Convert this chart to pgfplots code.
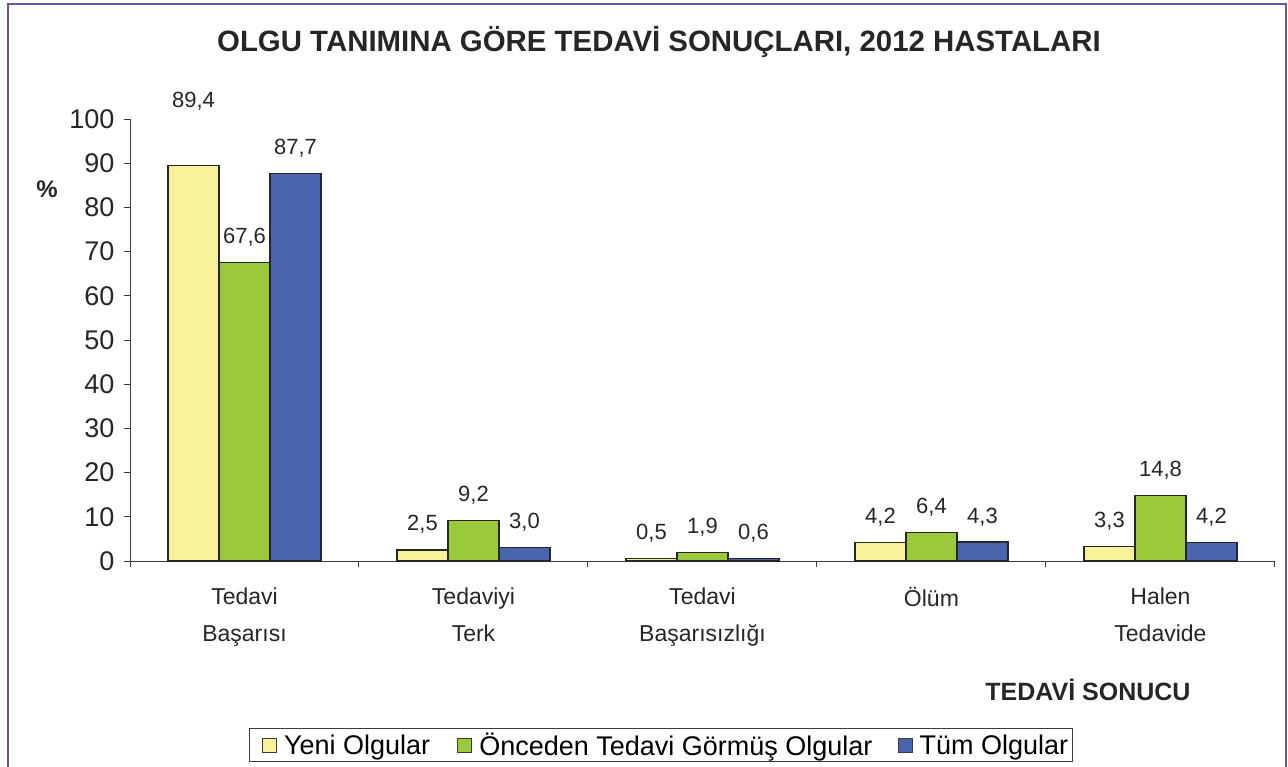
\documentclass[border=0pt]{standalone}
\usepackage{pgfplots}
\pgfplotsset{compat=1.18}
\usepackage{fontspec}
\setmainfont{Liberation Sans}
\definecolor{cyel}{RGB}{247,242,154}
\definecolor{cgrn}{RGB}{154,202,60}
\definecolor{cblu}{RGB}{72,101,174}
\definecolor{cfrm}{RGB}{112,84,160}
\definecolor{caxis}{RGB}{60,60,60}
\begin{document}
\begin{tikzpicture}[x=1pt,y=1pt]
\path[use as bounding box] (0,0) rectangle (1288,-766);
\draw[cfrm, line width=2pt] (8,-770) -- (8,-4) -- (1285.5,-4) -- (1285.5,-770);
\node[font=\bfseries\fontsize{29.4}{34}\selectfont, text=black!85] at (659,-42) {OLGU TANIMINA GÖRE TEDAVİ SONUÇLARI, 2012 HASTALARI};
\node[font=\bfseries\fontsize{24}{28}\selectfont, text=black!85] at (47,-189) {\%};
\node[font=\bfseries\fontsize{25}{28}\selectfont, text=black!85] at (1088,-690) {TEDAVİ SONUCU};
\begin{axis}[
  at={(130pt,-561pt)}, anchor=south west,
  width=1145pt, height=442pt, scale only axis,
  xmin=-0.5, xmax=4.5, ymin=0, ymax=100,
  enlargelimits=false,
  axis x line=bottom, axis y line=left,
  axis line style={-, draw=caxis, line width=1pt},
  tick align=outside, major tick length=6pt, minor tick length=6pt,
  tick style={draw=caxis, line width=1pt},
  ytick={0,10,...,100},
  yticklabel style={font=\fontsize{27}{30}\selectfont, text=black!85, xshift=-6pt},
  /pgf/number format/assume math mode=true,
  xtick={0,1,2,3,4},
  xticklabels={{Tedavi\\Başarısı},{Tedaviyi\\Terk},{Tedavi\\Başarısızlığı},{Ölüm},{Halen\\Tedavide}},
  xticklabel style={align=center, font=\fontsize{23}{37}\selectfont, text=black!85, yshift=-17pt},
  major x tick style={draw=none},
  minor xtick={-0.5,0.5,1.5,2.5,3.5,4.5},
  ybar=0pt, bar width=51pt,
  nodes near coords={\pgfmathprintnumber[fixed,fixed zerofill,precision=1,use comma]{\pgfplotspointmeta}},
  every node near coord/.append style={anchor=base, yshift=19pt, font=\fontsize{22}{26}\selectfont, text=black!85},
  legend columns=3,
  legend style={at={(0.4638,-0.4163)}, anchor=center, draw=caxis, line width=1pt,
    font=\fontsize{27}{30}\selectfont, inner sep=2pt},
  legend image code/.code={\path (-10pt,0pt);\draw[#1, draw=caxis, line width=1pt] (0pt,-7pt) rectangle (14pt,7pt);},
]
\addplot[fill=cyel, draw=black!85, line width=1.2pt,
  coordinate style/.condition={\coordindex==0}{yshift=39pt}]
  coordinates {(0,89.4) (1,2.5) (2,0.5) (3,4.2) (4,3.3)};
\addplot[fill=cgrn, draw=black!85, line width=1.2pt]
  coordinates {(0,67.6) (1,9.2) (2,1.9) (3,6.4) (4,14.8)};
\addplot[fill=cblu, draw=black!85, line width=1.2pt]
  coordinates {(0,87.7) (1,3.0) (2,0.6) (3,4.3) (4,4.2)};
\legend{\rule{5pt}{0pt}Yeni Olgular\rule{15pt}{0pt},\rule{5pt}{0pt}Önceden Tedavi Görmüş Olgular\rule{13pt}{0pt},\rule{5pt}{0pt}Tüm Olgular}
\end{axis}
\end{tikzpicture}
\end{document}
